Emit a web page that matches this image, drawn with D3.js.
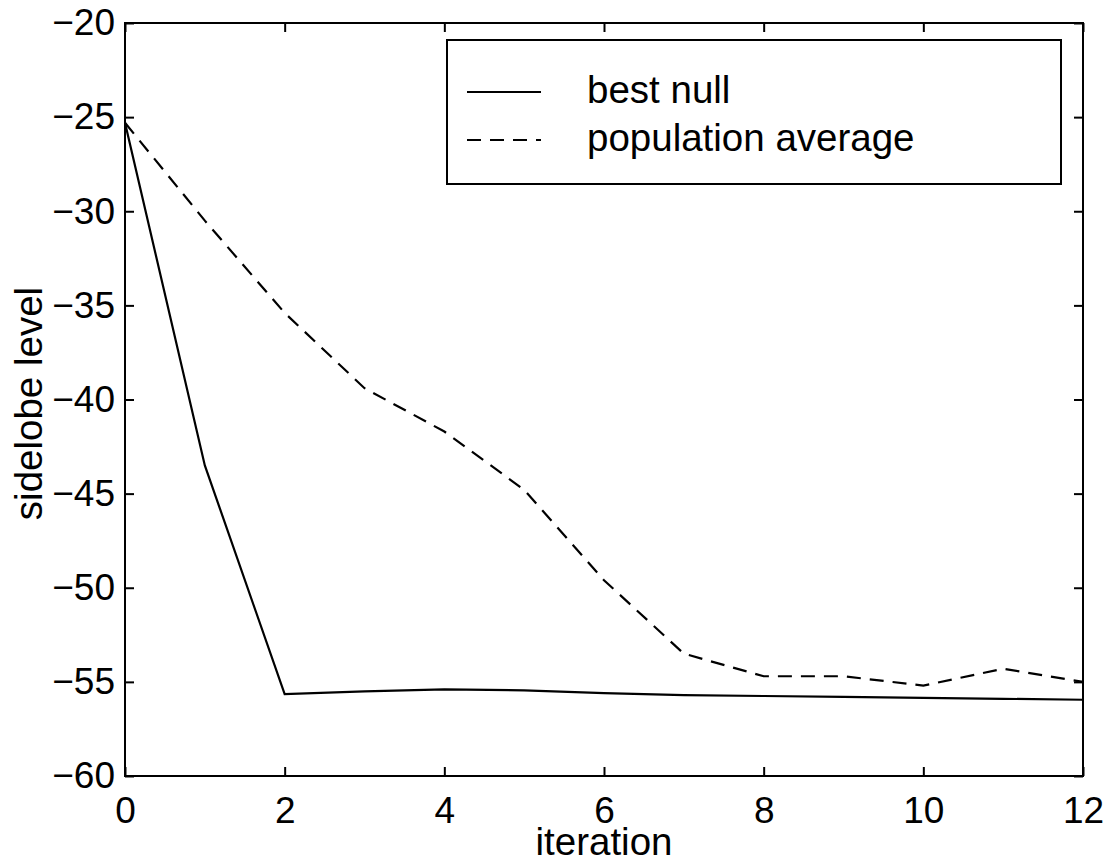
<!DOCTYPE html>
<html>
<head>
<meta charset="utf-8">
<script src="https://cdn.jsdelivr.net/npm/d3@7"></script>
<style>
  body { margin: 0; background: #fff; }
  svg text { font-family: "Liberation Sans", Arial, Helvetica, sans-serif; fill: #000; }
  .line { fill: none; stroke: #000; stroke-width: 2.2; }
</style>
</head>
<body>
<div id="chart"></div>
<script>
// iterations on the x axis
var iterations = [0, 1, 2, 3, 4, 5, 6, 7, 8, 9, 10, 11, 12];

// sidelobe level of the best null per iteration
var bestNull = [-25.3, -43.5, -55.65, -55.5, -55.4, -55.45, -55.6, -55.7, -55.75, -55.8, -55.85, -55.9, -55.95];

// population average per iteration
var popAverage = [-25.3, -30.5, -35.4, -39.4, -41.7, -44.8, -49.6, -53.5, -54.7, -54.7, -55.2, -54.3, -55.0];

// tick values
var xTicks = [0, 2, 4, 6, 8, 10, 12];
var yTicks = [-60, -55, -50, -45, -40, -35, -30, -25, -20];

var legendLabels = ["best null", "population average"];

// set the dimensions and margins of the graph
var margin = {top: 23, right: 29, bottom: 87, left: 125},
    width = 1112 - margin.left - margin.right,
    height = 863 - margin.top - margin.bottom;

var x = d3.scaleLinear().domain([0, 12]).range([0, width]);
var y = d3.scaleLinear().domain([-60, -20]).range([height, 0]);

var svg = d3.select("#chart").append("svg")
    .attr("width", 1112)
    .attr("height", 863)
  .append("g")
    .attr("transform", "translate(" + margin.left + "," + margin.top + ")");

var tickFont = 37,
    labelFont = 38.5;

// bottom axis with labels, ticks pointing in
var xAxis = svg.append("g")
    .attr("transform", "translate(0," + height + ")")
    .call(d3.axisBottom(x).tickValues(xTicks).tickFormat(d3.format("d"))
        .tickSizeInner(-9).tickSizeOuter(0).tickPadding(21));

// left axis with labels
var yAxis = svg.append("g")
    .call(d3.axisLeft(y).tickValues(yTicks).tickFormat(d3.format("d"))
        .tickSizeInner(-9).tickSizeOuter(0).tickPadding(10));

// top and right ticks, no labels
var xTop = svg.append("g")
    .call(d3.axisTop(x).tickValues(xTicks).tickFormat("")
        .tickSizeInner(-9).tickSizeOuter(0));
var yRight = svg.append("g")
    .attr("transform", "translate(" + width + ",0)")
    .call(d3.axisRight(y).tickValues(yTicks).tickFormat("")
        .tickSizeInner(-9).tickSizeOuter(0));

[xAxis, yAxis, xTop, yRight].forEach(function(a) {
    a.select(".domain").remove();
    a.selectAll(".tick line").attr("stroke", "#000").attr("stroke-width", 2);
    a.selectAll(".tick text").style("font-size", tickFont + "px");
    a.attr("font-family", null).attr("font-size", null);
});

// frame
svg.append("rect")
    .attr("x", 0).attr("y", 0)
    .attr("width", width).attr("height", height)
    .attr("fill", "none")
    .attr("stroke", "#000")
    .attr("stroke-width", 2);

var line = d3.line()
    .x(function(d, i) { return x(iterations[i]); })
    .y(function(d) { return y(d); });

svg.append("path")
    .datum(bestNull)
    .attr("class", "line")
    .attr("d", line);

svg.append("path")
    .datum(popAverage)
    .attr("class", "line")
    .attr("stroke-dasharray", "14,9")
    .attr("d", line);

// axis labels
svg.append("text")
    .attr("x", width / 2)
    .attr("y", height + 79)
    .attr("text-anchor", "middle")
    .style("font-size", labelFont + "px")
    .text("iteration");

svg.append("text")
    .attr("transform", "translate(" + (42 - margin.left) + "," + (height / 2 + 4) + ") rotate(-90)")
    .attr("text-anchor", "middle")
    .style("font-size", labelFont + "px")
    .text("sidelobe level");

// legend
var legend = svg.append("g")
    .attr("transform", "translate(" + (447 - margin.left) + "," + (40 - margin.top) + ")");

legend.append("rect")
    .attr("width", 614)
    .attr("height", 144)
    .attr("fill", "#fff")
    .attr("stroke", "#000")
    .attr("stroke-width", 2);

legendLabels.forEach(function(label, i) {
    var ly = 52 + i * 48;
    legend.append("line")
        .attr("x1", 20).attr("x2", 94)
        .attr("y1", ly).attr("y2", ly)
        .attr("stroke", "#000")
        .attr("stroke-width", 2)
        .attr("stroke-dasharray", i === 1 ? "14,9" : null);
    legend.append("text")
        .attr("x", 140)
        .attr("y", ly + 11)
        .style("font-size", labelFont + "px")
        .text(label);
});
</script>
</body>
</html>
